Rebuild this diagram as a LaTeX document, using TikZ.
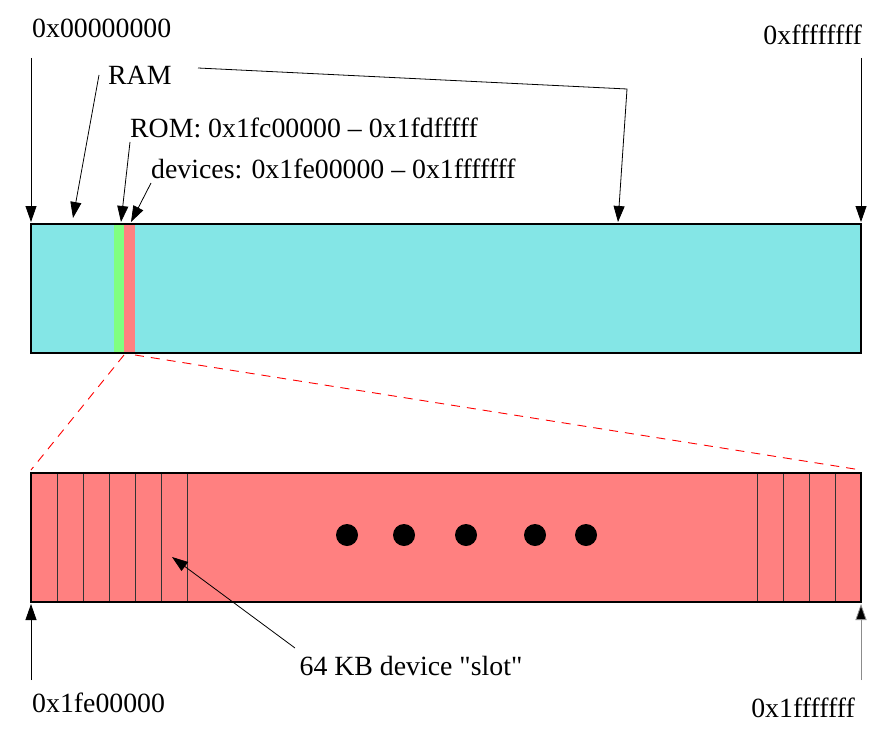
\documentclass[tikz,border=0pt]{standalone}
\usepackage{fontspec}
\setmainfont{Liberation Serif}
\usetikzlibrary{arrows.meta}
\definecolor{ramc}{RGB}{132,230,230}
\definecolor{romc}{RGB}{128,255,128}
\definecolor{devc}{RGB}{255,128,128}
\begin{document}
\begin{tikzpicture}[x=1pt,y=-1pt,
  lbl/.style={inner sep=0pt,font=\fontsize{27.8}{32}\selectfont},
  arr/.style={line width=0.8pt,-{Triangle[length=16pt,width=11pt]}},
  bar/.style={draw=black,line width=1.3pt},
  slot/.style={draw=black!80,line width=0.8pt},
  zoomln/.style={draw=red,line width=0.9pt,dash pattern=on 9pt off 7pt}]
\useasboundingbox (0,0) rectangle (890,738);
% top bar
\fill[ramc] (31,224) rectangle (861,353);
\fill[romc] (114,224) rectangle (124,353);
\fill[devc] (124,224) rectangle (135,353);
\draw[bar] (31,224) rectangle (861,353);
% bottom bar
\fill[devc] (31,473) rectangle (861,602);
\foreach \x in {57,83,109,135,161,187,757,783,809,835}
  \draw[slot] (\x,473) -- (\x,602);
\draw[bar] (31,473) rectangle (861,602);
\foreach \x in {347,404,466,535,586}
  \fill[black] (\x,535) circle (11);
% zoom lines
\coordinate (zl1) at (124,355);
\coordinate (zl2) at (31,470);
\coordinate (zr1) at (135,355);
\coordinate (zr2) at (861,470);
\draw[zoomln] (zl1) -- (zl2);
\draw[zoomln] (zr1) -- (zr2);
% labels
\node[lbl,anchor=base west] (lz) at (32,38) {0x00000000};
\node[lbl,anchor=base east] (lf) at (862,45) {0xffffffff};
\node[lbl,anchor=base west] (lram) at (108,85) {RAM};
\node[lbl,anchor=base west] (lrom) at (130,138) {ROM: 0x1fc00000 -- 0x1fdfffff};
\node[lbl,anchor=base west] (ldev) at (151,178) {devices: 0x1fe00000 -- 0x1fffffff};
\node[lbl,anchor=base] (lslot) at (411,675) {64 KB device \textquotedbl slot\textquotedbl};
\node[lbl,anchor=base west] (lb0) at (32,712) {0x1fe00000};
\node[lbl,anchor=base east] (lb1) at (855,717) {0x1fffffff};
% arrow coordinates
\coordinate (a0s) at (31,58);   \coordinate (a0e) at (31,222);
\coordinate (afs) at (861,58);  \coordinate (afe) at (861,222);
\coordinate (ar1s) at (99,75);  \coordinate (ar1e) at (73,218);
\coordinate (ar2s) at (198,68); \coordinate (ar2m) at (627,89); \coordinate (ar2e) at (618,222);
\coordinate (aros) at (130,142); \coordinate (aroe) at (121,222);
\coordinate (ades) at (151,183); \coordinate (adee) at (131,222);
\coordinate (ass) at (295,648); \coordinate (ase) at (172,557);
\coordinate (ab0s) at (31,680); \coordinate (ab0e) at (31,604);
\coordinate (ab1s) at (861,680); \coordinate (ab1e) at (861,604);
\draw[arr] (a0s) -- (a0e);
\draw[arr] (afs) -- (afe);
\draw[arr] (ar1s) -- (ar1e);
\draw[arr] (ar2s) -- (ar2m) -- (ar2e);
\draw[arr] (aros) -- (aroe);
\draw[arr] (ades) -- (adee);
\draw[arr] (ass) -- (ase);
\draw[arr] (ab0s) -- (ab0e);
\draw[arr,draw=black!45,-{Triangle[length=16pt,width=11pt,fill=black]}] (ab1s) -- (ab1e);
\end{tikzpicture}
\end{document}
